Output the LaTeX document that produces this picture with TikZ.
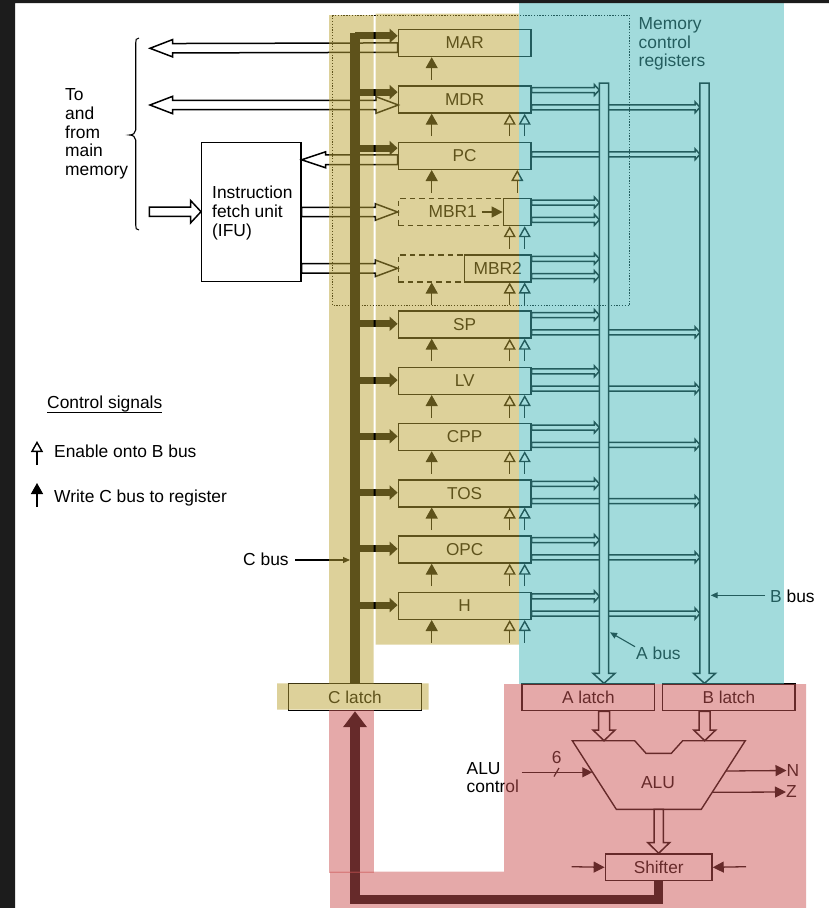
\documentclass[tikz,border=0pt]{standalone}
\usepackage{fontspec}
\setmainfont{Liberation Sans}
\usetikzlibrary{arrows.meta,calc}
\tikzset{
  lbl/.style={inner sep=0pt,font=\fontsize{17.4}{18.6}\selectfont},
  lblleft/.style={lbl,anchor=west,align=left},
  regbox/.style={draw=black,line width=1.4pt,minimum width=132.7pt,minimum height=27pt,inner sep=0pt,font=\fontsize{17.2}{18.5}\selectfont},
  dashbox/.style={regbox,dash pattern=on 5.5pt off 4pt},
  solidbox/.style={draw=black,line width=1.4pt,inner sep=0pt,font=\fontsize{17.2}{18.5}\selectfont},
  thin line/.style={draw=black,line width=1.2pt},
  hollowbus/.style={draw=black,line width=1.5pt,fill=white,line join=miter},
  writearrow/.style={draw=black,line width=1.4pt,-{Triangle[length=11pt,width=12pt]}},
  enablearrow/.style={draw=black,line width=1.4pt,-{Triangle[open,length=11pt,width=12pt,line width=1.4pt,fill=white]}},
  smallarrow/.style={draw=black,line width=1.3pt,-{Triangle[length=10pt,width=10pt]}},
  leader/.style={draw=black,line width=1.1pt,-{Triangle[length=7pt,width=6pt]}},
  cbusmain/.style={draw=black,line width=9.5pt},
  cbranch/.style={draw=black,line width=7pt,-{Triangle[length=8pt,width=14pt]}},
  cbusreturn/.style={draw=black,line width=9.5pt,line join=miter,-{Triangle[length=16pt,width=23pt]}},
  panel/.style={fill opacity=.5,draw=none},
}
\definecolor{tanpanel}{RGB}{189,165,55}
\definecolor{tealpanel}{RGB}{71,185,187}
\definecolor{pinkpanel}{RGB}{205,85,85}
\definecolor{frame}{RGB}{28,28,28}
% from, to, shaft half width, head length, head half width
\newcommand{\holarrow}[5]{%
  \coordinate (hA) at #1; \coordinate (hB) at #2;
  \coordinate (hC) at ($(hB)!#4pt!(hA)$);
  \draw[hollowbus] ($(hA)!#3pt!90:(hB)$) -- ($(hC)!#3pt!90:(hB)$) -- ($(hC)!#5pt!90:(hB)$) -- (hB)
    -- ($(hC)!#5pt!-90:(hB)$) -- ($(hC)!#3pt!-90:(hB)$) -- ($(hA)!#3pt!-90:(hB)$) -- cycle;
}
\newcommand{\toA}[2]{\coordinate (u) at ($(#1.north east)+(0,#2)$); \holarrow{(u)}{(u -| aedge)}{2.5}{5}{5.5}}
\newcommand{\toB}[2]{\coordinate (u) at ($(#1.north east)+(0,#2)$); \holarrow{(u)}{(u -| bedge)}{2.5}{5}{5.5}}
\newcommand{\wrreg}[1]{\draw[writearrow] ($(#1.south -| wx)+(0,22.5)$) -- (#1.south -| wx);}
\newcommand{\enab}[2]{\draw[enablearrow] ($(#1.south -| #2)+(0,22.5)$) -- (#1.south -| #2);}
\newcommand{\cbr}[2]{\coordinate (u) at ($(#1.north west)+(0,#2)$); \draw[cbranch] (u -| cbustop) -- (u);}
\begin{document}
\begin{tikzpicture}[x=1pt,y=-1pt]
\useasboundingbox (0,0) rectangle (829,908);
\fill[white] (0,0) rectangle (829,908);
\coordinate (aedge) at (599.3,0);
\coordinate (bedge) at (700,0);
\coordinate (wx) at (431.7,0);
\coordinate (ea) at (509.7,0);
\coordinate (eb) at (524.7,0);
\coordinate (ec) at (517.3,0);
\coordinate (cbustop) at (355,33);
% latches and ALU parts
\node[solidbox,minimum width=133.4pt,minimum height=27pt] (clatch) at (355,697) {C latch};
\node[solidbox,minimum width=132.7pt,minimum height=26.5pt] (alatch) at (588.3,697.3) {A latch};
\node[solidbox,minimum width=132.3pt,minimum height=26.5pt] (blatch) at (728.8,697.3) {B latch};
\node[solidbox,minimum width=106.7pt,minimum height=26.7pt] (shifter) at (658.7,867.3) {Shifter};
% registers
\foreach \nm/\tx/\yy in {mar/MAR/43, mdr/MDR/99.5, pc/PC/155.8, sp/SP/324.5, lv/LV/380.8, cpp/CPP/437, tos/TOS/493.3, opc/OPC/549.5, h/H/605.8}{
  \node[regbox,fill=none,name=\nm] at (464.65,\yy) {\tx};
}
\node[dashbox] (mbra) at (464.65,212) {};
\node[dashbox] (mbrb) at (464.65,268.3) {};
% IFU
\node[solidbox,minimum width=99.3pt,minimum height=139.4pt] (ifu) at (251.35,212) {};
\node[lblleft] (ifut) at (212,213) {Instruction\\fetch unit\\(IFU)};
% hollow buses left
\coordinate (mm1) at (150,48.3);
\coordinate (mm2) at (150,105);
\coordinate (mm3) at (149.3,211.7);
\coordinate (marl) at ($(mar.north west)+(0,18.8)$);
\holarrow{(marl)}{(mm1)}{4.7}{22.7}{8.7}
% MDR two-way
\draw[hollowbus] (mm2) -- (172.7,96.3) -- (172.7,100.3) -- (376,100.3) -- (376,96.7) -- (398.3,105) -- (376,113.3) -- (376,109.7) -- (172.7,109.7) -- (172.7,113.7) -- cycle;
\coordinate (pcl) at ($(pc.north west)+(0,18.2)$);
\holarrow{(pcl)}{(pcl -| ifu.east)}{4.9}{24}{8}
\holarrow{(mm3)}{(mm3 -| ifu.west)}{4.7}{10.5}{11.3}
\holarrow{(mbra.west -| ifu.east)}{(mbra.west)}{4.7}{22.3}{8.3}
\holarrow{(mbrb.west -| ifu.east)}{(mbrb.west)}{4.7}{22.3}{8.3}
% outputs
\foreach \rg in {mdr,sp,lv,cpp,tos,opc,h}{ \toB{\rg}{22} }
\toB{pc}{12.7}
\foreach \rg in {mdr,sp,lv,cpp,tos,opc,h}{ \toA{\rg}{4.7} }
\foreach \rg in {mbra,mbrb}{ \toA{\rg}{4.7} \toA{\rg}{22} }
% solid parts of MBR registers
\node[solidbox,minimum width=27.7pt,minimum height=27pt] (mbrabox) at (517.15,212) {};
\node[solidbox,minimum width=66.7pt,minimum height=27pt] (mbrbbox) at (497.65,268.3) {};
\node[lbl] (mbral) at (452.7,212) {MBR1};
\node[lbl] (mbrbl) at (497.7,268.3) {MBR2};
\draw[smallarrow,-{Triangle[length=11pt,width=11pt]}] ($(mbrabox.west)+(-21,0)$) -- (mbrabox.west);
% A and B bus
\coordinate (abtop) at (604,83);
\coordinate (bbtop) at (704.5,83);
\holarrow{(abtop)}{(abtop |- alatch.north)}{4.6}{10}{11}
\holarrow{(bbtop)}{(bbtop |- blatch.north)}{4.6}{10}{11}
% control arrows
\foreach \rg in {mar,mdr,pc,mbrb,sp,lv,cpp,tos,opc,h}{ \wrreg{\rg} }
\foreach \rg in {mdr,mbra,mbrb,sp,lv,cpp,tos,opc,h}{ \enab{\rg}{ea} \enab{\rg}{eb} }
\enab{pc}{ec}
% ALU
\coordinate (alu1) at (572.3,740.7); \coordinate (alu2) at (745.3,740.7);
\coordinate (aluin) at (604,740.7); \coordinate (aluin2) at (704.7,740.7);
\coordinate (aluout) at (658.7,809.3);
\draw[solidbox,fill=white,line join=miter] (alu1) -- (634.7,740.7) -- (646,753.3) -- (671.3,753.3) -- (682.7,740.7) -- (alu2) -- (701.3,809.3) -- (616.3,809.3) -- cycle;
\node[lbl] (alut) at (658,782.5) {ALU};
\holarrow{(alatch.south -| aluin)}{(aluin)}{5.5}{10.7}{11}
\holarrow{(blatch.south -| aluin2)}{(aluin2)}{5.5}{10.7}{11}
\holarrow{(aluout)}{(aluout |- shifter.north)}{4.7}{10.7}{11}
% ALU side signals
\coordinate (ctlstart) at (521.7,772.3); \coordinate (ctlend) at (592.3,772.3);
\draw[smallarrow] (ctlstart) -- (ctlend);
\draw[thin line] (554,776.5) -- (559,768);
\node[lbl] (six) at (556.7,758) {6};
\node[lblleft] (aluctl) at (466.5,777.5) {ALU\\control};
\node[lbl] (nn) at (793,770.5) {N};
\node[lbl] (zz) at (791.5,792) {Z};
\coordinate (nstart) at (726,771); \coordinate (zstart) at (712,792.3);
\draw[smallarrow,-{Triangle[length=11pt,width=11pt]}] (nstart) -- (nn.west);
\draw[smallarrow,-{Triangle[length=11pt,width=11pt]}] (zstart) -- (zz.west);
\coordinate (shl) at (571.7,866.7); \coordinate (shr) at (746,866.7);
\draw[smallarrow,-{Triangle[length=11pt,width=11pt]}] (shl) -- (shifter.west);
\draw[smallarrow,-{Triangle[length=11pt,width=11pt]}] (shr) -- (shifter.east);
% C bus
\draw[cbusmain] (clatch.north -| cbustop) -- (cbustop);
\cbr{mar}{7}
\cbr{mdr}{6.8}
\cbr{pc}{6.5}
\foreach \rg in {sp,lv,cpp,tos,opc,h}{ \cbr{\rg}{13.5} }
\coordinate (retmid) at (658.7,899.5);
\draw[cbusreturn] (shifter.south) -- (retmid) -- (retmid -| clatch.south) -- (clatch.south);
% left column labels
\draw[thin line,line width=1.1pt] (139,38) .. controls (136,38) and (135.7,40) .. (135.7,43) -- (135.7,130) .. controls (135.7,133) and (133,135) .. (129.5,135) .. controls (133,135) and (135.7,137) .. (135.7,140) -- (135.7,225) .. controls (135.7,228) and (136,230) .. (139,230);
\node[lblleft] (tomem) at (65,134) {To\\and\\from\\main\\memory};
\node[lblleft] (ctls) at (47,404) {Control signals};
\draw[thin line,line width=1pt] (47,412) -- (162,412);
\coordinate (lgA) at (37,441); \coordinate (lgB) at (37,483);
\draw[enablearrow] ($(lgA)+(0,24)$) -- (lgA);
\draw[writearrow] ($(lgB)+(0,24)$) -- (lgB);
\node[lblleft] (ena) at (54,451.5) {Enable onto B bus};
\node[lblleft] (wrc) at (54,498) {Write C bus to register};
\node[lblleft] (cbl) at (243,559.5) {C bus};
\coordinate (cbustip) at (350,560);
\draw[leader] (295,560) -- (cbustip);
\node[lblleft] (bbl) at (770,596) {B bus};
\node[lblleft] (abl) at (636,653) {A bus};
\coordinate (bb1) at (765,595.3); \coordinate (bb2) at (710.7,595.3);
\draw[leader] (bb1) -- (bb2);
\coordinate (ab1) at (635,646.7); \coordinate (ab2) at (610,632.3);
\draw[leader] (ab1) -- (ab2);
\node[lblleft] (mcr) at (638.5,44) {Memory\\control\\registers};
% dotted memory control region
\draw[line width=.9pt,dash pattern=on 1.3pt off 1.5pt] (332.7,15.3) rectangle (629.3,305.7);
% colour panels
\fill[panel,tanpanel] (329,15) rectangle (373.7,684) (277,683.3) rectangle (428.7,709.5) (375.7,13.5) rectangle (519,644.7);
\fill[panel,tealpanel] (519,3) rectangle (784,684);
\fill[panel,pinkpanel] (504,684) rectangle (806,908) (330,871.7) rectangle (504,908);
\fill[panel,pinkpanel] (329,709.5) rectangle (373.7,872.7);
% screen frame
\fill[frame] (0,0) rectangle (829,3) (0,0) rectangle (15,908);
\end{tikzpicture}
\end{document}
